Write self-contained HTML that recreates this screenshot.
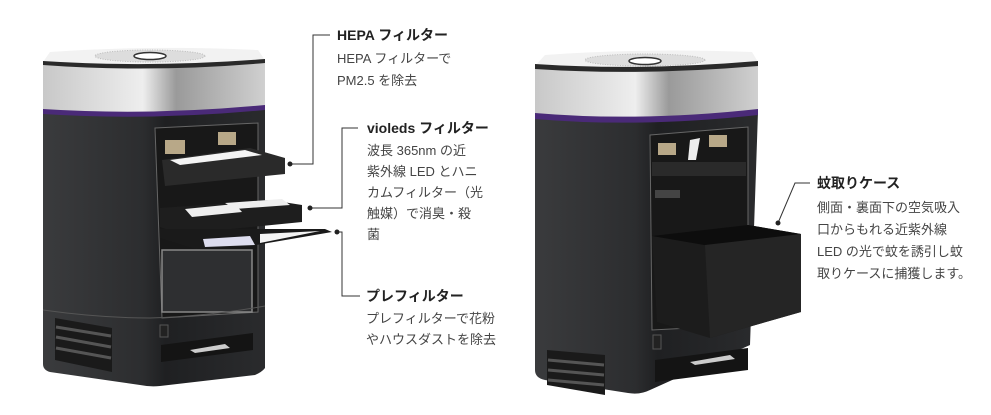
<!DOCTYPE html>
<html><head><meta charset="utf-8"><style>
html,body{margin:0;padding:0;background:#fff;}
svg{display:block}
text{font-family:"Liberation Sans","Noto Sans CJK JP",sans-serif;fill:#333;}
.t{font-size:14px;font-weight:bold;fill:#222}
.d{font-size:13px;fill:#444}
</style></head><body>
<svg width="991" height="415" viewBox="0 0 991 415" xmlns="http://www.w3.org/2000/svg">
<defs>
<linearGradient id="sil" x1="0" x2="1" y1="0" y2="0">
<stop offset="0" stop-color="#c8c8c8"/><stop offset="0.45" stop-color="#eeeeee"/><stop offset="0.6" stop-color="#9a9a9a"/><stop offset="1" stop-color="#d0d0d0"/></linearGradient>
<linearGradient id="bod" x1="0" x2="1" y1="0" y2="0">
<stop offset="0" stop-color="#3a3b3d"/><stop offset="0.45" stop-color="#2c2d2f"/><stop offset="0.55" stop-color="#1f2022"/><stop offset="1" stop-color="#2a2b2d"/></linearGradient>
</defs>
<rect width="991" height="415" fill="#fff"/>

<!-- LEFT DEVICE -->
<g>
<path d="M43 112 Q150 118 265 108 L265 368 Q262 372 255 375 L160 386 Q150 387 140 385 L50 372 Q43 370 43 364 Z" fill="url(#bod)"/>
<path d="M43 64 L265 62 L265 108 Q150 118 43 112 Z" fill="url(#sil)"/>
<path d="M43 109 Q150 116 265 105 L265 110 Q150 121 43 114 Z" fill="#4a2a78"/>
<path d="M50 52 Q150 45 258 50 L265 60 Q150 68 43 62 Z" fill="#f2f2f2"/>
<path d="M43 61 Q150 68 265 59 L265 63 Q150 73 43 65 Z" fill="#2a2a2a"/>
<ellipse cx="150" cy="56" rx="55" ry="6" fill="#ddd" stroke="#bbb" stroke-dasharray="1 1.5"/>
<ellipse cx="150" cy="56" rx="16" ry="3.5" fill="#fff" stroke="#333" stroke-width="1.5"/>
<!-- opening -->
<path d="M155 128 L258 123 L258 312 L162 318 Z" fill="#181818" stroke="#666" stroke-width="1"/>
<rect x="162" y="250" width="90" height="62" fill="#2e2f31" stroke="#888" stroke-width="1.5"/>
<rect x="165" y="140" width="20" height="14" fill="#b8a888"/>
<rect x="218" y="132" width="18" height="13" fill="#b8a888"/>
<!-- HEPA tray -->
<path d="M162 160 L250 148 L285 158 L285 174 L165 186 Z" fill="#2a2a2a"/>
<path d="M170 160 L245 150 L262 155 L180 165 Z" fill="#f4f4f4"/>
<!-- violeds tray -->
<path d="M160 208 L270 200 L302 205 L302 222 L180 234 L160 227 Z" fill="#1e1e1e"/>
<path d="M185 209 L235 204 L242 212 L192 217 Z" fill="#eee"/>
<path d="M225 203 L282 199 L290 205 L235 209 Z" fill="#eee"/>
<!-- prefilter -->
<path d="M160 229 L325 229 L332 232 L250 246 L195 249 L160 238 Z" fill="#1a1a1a"/>
<path d="M203 239 L250 236 L255 245 L205 247 Z" fill="#dde"/>
<path d="M260 234 L320 231 L260 243 Z" fill="#f4f4f4"/>
<!-- base -->
<path d="M43 310 Q100 318 150 318 Q210 316 265 306" fill="none" stroke="#555" stroke-width="1"/>
<path d="M55 318 L112 328 L112 372 L55 360 Z" fill="#1a1a1a"/>
<g stroke="#555" stroke-width="3"><line x1="56" y1="327" x2="111" y2="336"/><line x1="56" y1="337" x2="111" y2="347"/><line x1="56" y1="348" x2="111" y2="358"/></g>
<path d="M161 345 L253 333 L253 350 L161 362 Z" fill="#141414"/>
<path d="M190 350 L225 344 L230 348 L195 353 Z" fill="#ccc"/>
<rect x="160" y="325" width="8" height="12" fill="#222" stroke="#555"/>
</g>

<!-- RIGHT DEVICE -->
<g>
<path d="M535 118 Q640 125 758 112 L750 345 L650 390 Q640 395 628 393 L545 380 Q535 378 535 370 Z" fill="url(#bod)"/>
<path d="M535 66 L758 64 L758 112 Q640 125 535 116 Z" fill="url(#sil)"/>
<path d="M535 113 Q640 122 758 109 L758 115 Q640 128 535 119 Z" fill="#4a2a78"/>
<path d="M545 55 Q640 48 752 52 L758 62 Q640 71 535 66 Z" fill="#f2f2f2"/>
<path d="M535 64 Q640 71 758 61 L758 66 Q640 76 535 69 Z" fill="#2a2a2a"/>
<ellipse cx="645" cy="60" rx="60" ry="6" fill="#ddd" stroke="#bbb" stroke-dasharray="1 1.5"/>
<ellipse cx="645" cy="61" rx="16" ry="3.5" fill="#fff" stroke="#333" stroke-width="1.5"/>
<path d="M650 135 L748 127 L748 325 L652 330 Z" fill="#181818" stroke="#666" stroke-width="1"/>
<rect x="658" y="143" width="18" height="12" fill="#b8a888"/>
<rect x="709" y="135" width="18" height="12" fill="#b8a888"/>
<path d="M690 140 L700 138 L696 160 L688 160 Z" fill="#eee"/>
<rect x="652" y="162" width="94" height="14" fill="#2a2a2a"/>
<rect x="655" y="190" width="25" height="8" fill="#444"/>
<!-- case -->
<path d="M652 236 L748 225 L801 234 L801 312 L710 338 L657 322 Z" fill="#1c1c1c"/>
<path d="M652 236 L748 225 L801 234 L710 246 Z" fill="#0d0d0d"/>
<path d="M705 245 L801 234 L801 312 L710 338 Z" fill="#252525"/>
<!-- base -->
<path d="M547 350 L605 355 L605 395 L547 385 Z" fill="#1a1a1a"/>
<g stroke="#555" stroke-width="3"><line x1="548" y1="360" x2="604" y2="365"/><line x1="548" y1="370" x2="604" y2="375"/><line x1="548" y1="380" x2="604" y2="385"/></g>
<path d="M655 360 L748 348 L748 370 L655 382 Z" fill="#141414"/>
<path d="M690 362 L730 355 L735 359 L695 365 Z" fill="#ccc"/>
<rect x="653" y="335" width="8" height="14" fill="#222" stroke="#555"/>
</g>

<!-- callouts -->
<g stroke="#333" stroke-width="1" fill="none">
<polyline points="290,164 313,164 313,35 330,35"/>
<polyline points="310,208 342,208 342,128 358,128"/>
<polyline points="337,232 342,232 342,296 360,296"/>
<polyline points="778,223 795,183 810,183"/>
</g>
<g fill="#222"><circle cx="290" cy="164" r="2.5"/><circle cx="310" cy="208" r="2.5"/><circle cx="337" cy="232" r="2.5"/><circle cx="778" cy="223" r="2.5"/></g>

<text class="t" x="337" y="40">HEPA フィルター</text>
<text class="d" x="337" y="63">HEPA フィルターで</text>
<text class="d" x="337" y="85">PM2.5 を除去</text>

<text class="t" x="367" y="133">violeds フィルター</text>
<text class="d" x="367" y="155">波長 365nm の近</text>
<text class="d" x="367" y="176">紫外線 LED とハニ</text>
<text class="d" x="367" y="197">カムフィルター（光</text>
<text class="d" x="367" y="218">触媒）で消臭・殺</text>
<text class="d" x="367" y="239">菌</text>

<text class="t" x="366" y="301">プレフィルター</text>
<text class="d" x="366" y="323">プレフィルターで花粉</text>
<text class="d" x="366" y="344">やハウスダストを除去</text>

<text class="t" x="817" y="188">蚊取りケース</text>
<text class="d" x="817" y="212">側面・裏面下の空気吸入</text>
<text class="d" x="817" y="234">口からもれる近紫外線</text>
<text class="d" x="817" y="256">LED の光で蚊を誘引し蚊</text>
<text class="d" x="817" y="278">取りケースに捕獲します。</text>
</svg>
</body></html>
